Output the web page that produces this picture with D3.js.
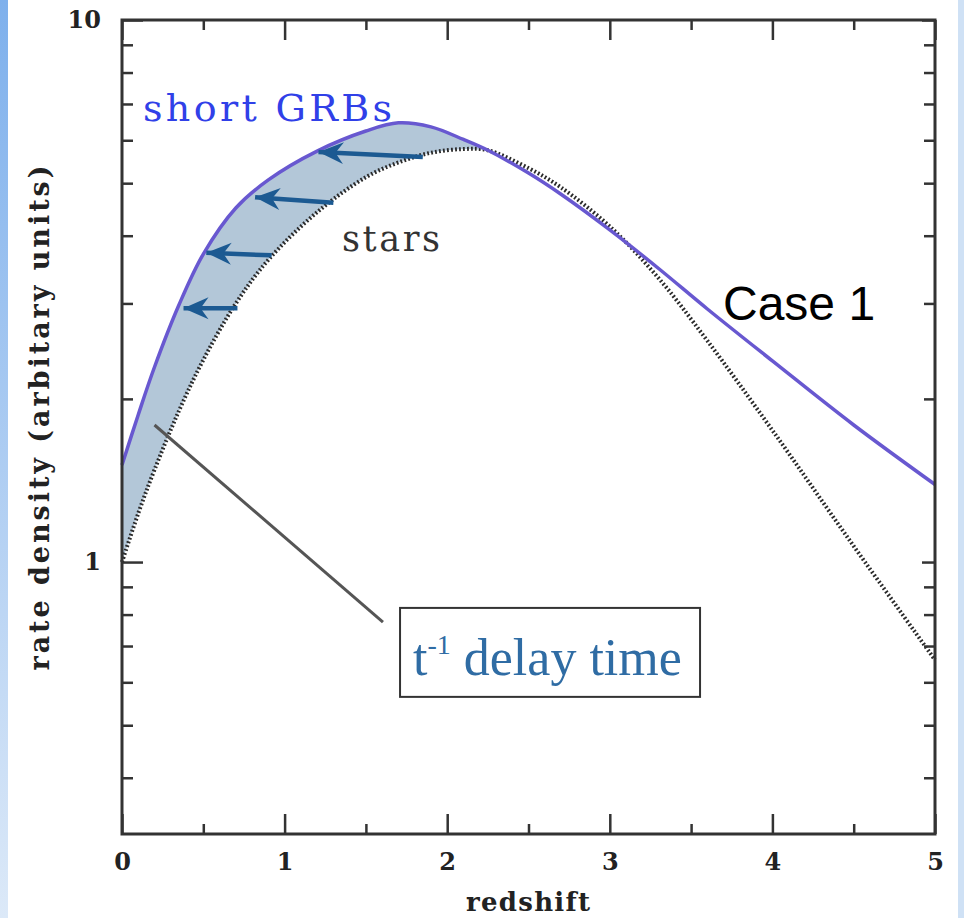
<!DOCTYPE html>
<html>
<head>
<meta charset="utf-8">
<script src="https://cdn.jsdelivr.net/npm/d3@7"></script>
<style>
  body { margin: 0; background: #fff; }
  .tick text { font-family: "DejaVu Serif", serif; font-weight: bold; font-size: 24px; fill: #222; }
  .tick line { stroke: #333; stroke-width: 2.5; }
</style>
</head>
<body>
<div id="chart"></div>
<script>
// redshift grid shared by both curves
const redshift  = [0, 0.1, 0.2, 0.35, 0.5, 0.7, 0.9, 1.2, 1.5, 1.7, 1.9, 2.1, 2.25, 2.5, 2.7, 3.0, 3.3, 3.6, 4.0, 4.5, 5.0]
const shortGRBs = [1.51, 1.87, 2.29, 2.98, 3.70, 4.50, 5.07, 5.73, 6.24, 6.46, 6.35, 6.02, 5.75, 5.22, 4.77, 4.10, 3.48, 2.93, 2.35, 1.79, 1.39]
const stars     = [1.0, 1.23, 1.48, 1.90, 2.36, 3.00, 3.61, 4.42, 5.13, 5.46, 5.69, 5.78, 5.75, 5.33, 4.91, 4.16, 3.34, 2.56, 1.75, 1.07, 0.66]

// shift arrows: from the stars curve back to the GRB curve
const arrowFromZ   = [0.71, 0.92, 1.30, 1.85]
const arrowFromVal = [2.94, 3.68, 4.60, 5.59]
const arrowToZ     = [0.36, 0.50, 0.80, 1.19]
const arrowToVal   = [2.94, 3.72, 4.71, 5.71]

// ticks
const xMajor = [0, 1, 2, 3, 4, 5]
const xMinor = [0.5, 1.5, 2.5, 3.5, 4.5]
const yMajor = [1, 10]
const yMinor = [0.4, 0.5, 0.6, 0.7, 0.8, 0.9, 2, 3, 4, 5, 6, 7, 8, 9]

const W = 964, H = 918
const L = 122, R = 935, T = 20, B = 834

const svg = d3.select("#chart")
    .append("svg")
    .attr("width", W)
    .attr("height", H)

// slide-edge strips
const defs = svg.append("defs")
const grad = defs.append("linearGradient")
    .attr("id", "edge").attr("x1", 0).attr("y1", 0).attr("x2", 0).attr("y2", 1)
grad.append("stop").attr("offset", "0%").attr("stop-color", "#7eb0ec")
grad.append("stop").attr("offset", "100%").attr("stop-color", "#dce9f8")
svg.append("rect").attr("x", 0).attr("y", 0).attr("width", 8).attr("height", H).attr("fill", "url(#edge)")
svg.append("rect").attr("x", 958).attr("y", 0).attr("width", 6).attr("height", H).attr("fill", "#cfe1f5")

const x = d3.scaleLinear().domain([0, 5]).range([L, R])
const y = d3.scaleLog().domain([0.315, 10]).range([B, T])

const pts = redshift.map((z, i) => ({ z, grb: shortGRBs[i], star: stars[i] }))

// shaded band between the curves, up to where they meet
const area = d3.area()
    .x(d => x(d.z))
    .y0(d => y(d.star))
    .y1(d => y(d.grb))
    .curve(d3.curveCatmullRom.alpha(0.5))

svg.append("path")
    .datum(pts.filter(d => d.z <= 2.25))
    .attr("d", area)
    .attr("fill", "#b3c7d8")

const line = key => d3.line()
    .x(d => x(d.z))
    .y(d => y(d[key]))
    .curve(d3.curveCatmullRom.alpha(0.5))

svg.append("path")
    .datum(pts)
    .attr("d", line("star"))
    .attr("fill", "none")
    .attr("stroke", "#2a2a2a")
    .attr("stroke-width", 4)
    .attr("stroke-dasharray", "1.8 2.2")

svg.append("path")
    .datum(pts)
    .attr("d", line("grb"))
    .attr("fill", "none")
    .attr("stroke", "#6858d0")
    .attr("stroke-width", 3.5)

// arrows
defs.append("marker")
    .attr("id", "head")
    .attr("markerUnits", "userSpaceOnUse")
    .attr("viewBox", "-26 -13 28 26")
    .attr("markerWidth", 28).attr("markerHeight", 26)
    .attr("refX", 0).attr("refY", 0)
    .attr("orient", "auto")
    .append("path")
    .attr("d", "M0,0 L-25,-11 L-17,0 L-25,11 Z")
    .attr("fill", "#1c5a92")

svg.selectAll(".arrow")
    .data(arrowFromZ.map((z, i) => ({ z0: z, v0: arrowFromVal[i], z1: arrowToZ[i], v1: arrowToVal[i] })))
    .enter().append("line")
    .attr("class", "arrow")
    .attr("x1", d => x(d.z0)).attr("y1", d => y(d.v0))
    .attr("x2", d => x(d.z1) + 3).attr("y2", d => y(d.v1))
    .attr("stroke", "#1c5a92")
    .attr("stroke-width", 4.5)
    .attr("marker-end", "url(#head)")

// axes, ticks pointing inward
const axisG = (axis, tx, ty) => svg.append("g")
    .attr("transform", `translate(${tx}, ${ty})`)
    .call(axis)
    .call(g => g.select(".domain").remove())

axisG(d3.axisBottom(x).tickValues(xMajor).tickSize(-20).tickPadding(19).tickFormat(d3.format("d")), 0, B)
axisG(d3.axisBottom(x).tickValues(xMinor).tickSize(-10).tickFormat(""), 0, B)
axisG(d3.axisTop(x).tickValues(xMajor).tickSize(-20).tickFormat(""), 0, T)
axisG(d3.axisTop(x).tickValues(xMinor).tickSize(-10).tickFormat(""), 0, T)
axisG(d3.axisLeft(y).tickValues(yMajor).tickSize(-21).tickPadding(21).tickFormat(d3.format("d")), L, 0)
axisG(d3.axisLeft(y).tickValues(yMinor).tickSize(-11).tickFormat(""), L, 0)
axisG(d3.axisRight(y).tickValues(yMajor).tickSize(-13).tickFormat(""), R, 0)
axisG(d3.axisRight(y).tickValues(yMinor).tickSize(-11).tickFormat(""), R, 0)

svg.append("rect")
    .attr("x", L).attr("y", T)
    .attr("width", R - L).attr("height", B - T)
    .attr("fill", "none")
    .attr("stroke", "#333")
    .attr("stroke-width", 3)

// axis titles
svg.append("text")
    .attr("x", 528).attr("y", 911)
    .attr("text-anchor", "middle")
    .attr("font-family", "DejaVu Serif, serif")
    .attr("font-weight", "bold")
    .attr("font-size", 26)
    .attr("textLength", 124)
    .attr("fill", "#222")
    .text("redshift")

svg.append("text")
    .attr("transform", "translate(49, 418) rotate(-90)")
    .attr("text-anchor", "middle")
    .attr("font-family", "DejaVu Serif, serif")
    .attr("font-weight", "bold")
    .attr("font-size", 27)
    .attr("textLength", 505)
    .attr("fill", "#222")
    .text("rate density (arbitary units)")

// labels
svg.append("text")
    .attr("x", 143).attr("y", 121)
    .attr("font-family", "DejaVu Serif, serif")
    .attr("font-size", 38)
    .attr("textLength", 249)
    .attr("fill", "#3040e8")
    .text("short GRBs")

svg.append("text")
    .attr("x", 342).attr("y", 251)
    .attr("font-family", "DejaVu Serif, serif")
    .attr("font-size", 35)
    .attr("textLength", 98)
    .attr("fill", "#333")
    .text("stars")

svg.append("text")
    .attr("x", 723).attr("y", 320)
    .attr("font-family", "Liberation Sans, Arial, sans-serif")
    .attr("font-size", 48)
    .attr("fill", "#000")
    .text("Case 1")

// delay-time callout
svg.append("line")
    .attr("x1", x(0.2)).attr("y1", y(1.79))
    .attr("x2", x(1.605)).attr("y2", y(0.775))
    .attr("stroke", "#555")
    .attr("stroke-width", 3)

svg.append("rect")
    .attr("x", x(1.71)).attr("y", y(0.823))
    .attr("width", x(3.555) - x(1.71)).attr("height", y(0.564) - y(0.823))
    .attr("fill", "#fff")
    .attr("stroke", "#333")
    .attr("stroke-width", 2)

const lab = svg.append("text")
    .attr("x", 413).attr("y", 675)
    .attr("font-family", "Liberation Serif, serif")
    .attr("font-size", 52)
    .attr("fill", "#2f6ca4")
lab.append("tspan").text("t")
lab.append("tspan").attr("font-size", 28).attr("dy", -21).text("-1")
lab.append("tspan").attr("dy", 21).text(" delay time")
</script>
</body>
</html>
